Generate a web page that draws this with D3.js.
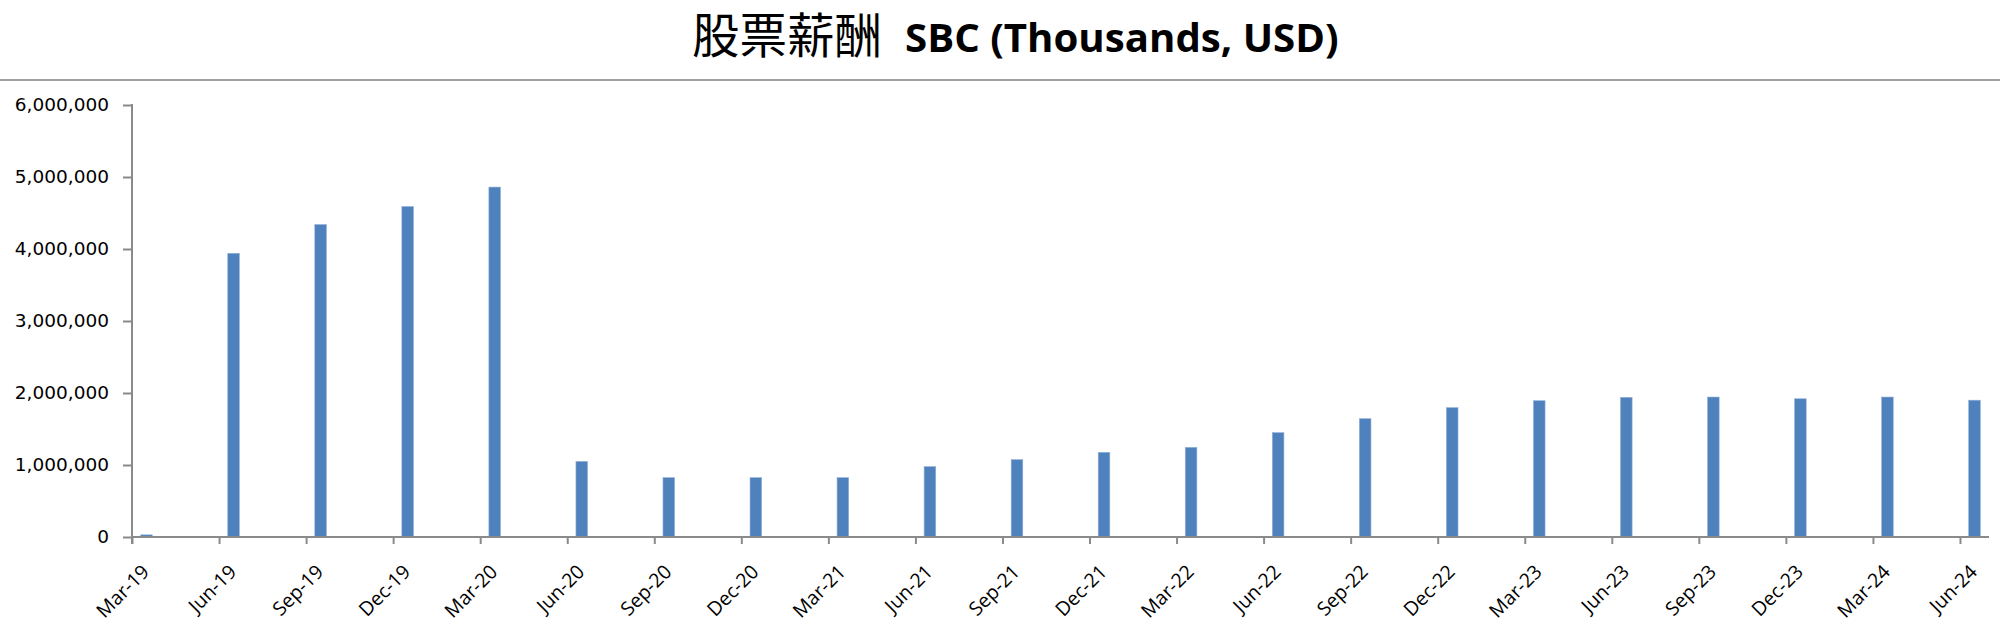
<!DOCTYPE html>
<html>
<head>
<meta charset="utf-8">
<script src="https://cdn.jsdelivr.net/npm/d3@7"></script>
<style>
  html, body { margin: 0; padding: 0; background: #fff; }
  svg { display: block; }
</style>
</head>
<body>
<svg id="chart" width="2000" height="626"></svg>
<script>
// ---- data ----
const titleZh = "股票薪酬";
const titleEn = "SBC (Thousands, USD)";
const categories = ["Mar-19","Jun-19","Sep-19","Dec-19","Mar-20","Jun-20","Sep-20","Dec-20",
  "Mar-21","Jun-21","Sep-21","Dec-21","Mar-22","Jun-22","Sep-22","Dec-22",
  "Mar-23","Jun-23","Sep-23","Dec-23","Mar-24","Jun-24"];
const sbcValues = [30000, 3940000, 4340000, 4590000, 4860000, 1050000, 824000, 824000,
  824000, 977000, 1074000, 1176000, 1245000, 1449000, 1643000, 1796000,
  1893000, 1940000, 1944000, 1920000, 1944000, 1900000];
const yTicks = [0, 1000000, 2000000, 3000000, 4000000, 5000000, 6000000];
const axisStart = "Mar-19";
const axisMonths = 64;

(function () {
// ---- layout ----
const svg = d3.select("#chart");
const mLeft = 132, mRight = 1989, mTop = 105, mBottom = 537;
const parse = d3.timeParse("%b-%y");
const start = parse(axisStart);
const monthIdx = c => d3.timeMonth.count(start, parse(c));

const x = d3.scaleLinear().domain([0, axisMonths]).range([mLeft, mRight]);
const y = d3.scaleLinear().domain([0, 6000000]).range([mBottom, mTop]);
const axisColor = "#8a8a8a";

// title (two parts)
svg.append("text")
  .attr("x", 692).attr("y", 53)
  .attr("fill", "#000")
  .attr("font-family", "'Noto Sans CJK TC', 'Noto Sans CJK SC', sans-serif")
  .attr("font-size", 47.5).attr("font-weight", 400)
  .text(titleZh);
svg.append("text")
  .attr("x", 905).attr("y", 52)
  .attr("fill", "#000")
  .attr("font-family", "'Open Sans', sans-serif")
  .attr("font-size", 40.2).attr("font-weight", 700)
  .text(titleEn);

// separator line
svg.append("line").attr("x1", 0).attr("x2", 2000).attr("y1", 80).attr("y2", 80)
  .attr("stroke", "#a0a0a0").attr("stroke-width", 2);

// bars
svg.append("g").selectAll("rect").data(categories).join("rect")
  .attr("x", c => x(monthIdx(c) + 0.3))
  .attr("width", x(0.4) - x(0))
  .attr("y", (c, i) => y(sbcValues[i]))
  .attr("height", (c, i) => y(0) - y(sbcValues[i]))
  .attr("fill", "#4F81BD")
  .attr("stroke", "#8fb0da").attr("stroke-width", 0.6);

// y axis
const yAxis = svg.append("g").attr("transform", `translate(${mLeft},0)`)
  .call(d3.axisLeft(y).tickValues(yTicks).tickFormat(d3.format(",")).tickSize(9).tickPadding(14).tickSizeOuter(0));
yAxis.select(".domain").remove();
yAxis.selectAll(".tick line").attr("stroke", axisColor).attr("stroke-width", 2);
yAxis.selectAll(".tick text")
  .attr("font-family", "'DejaVu Sans', sans-serif").attr("font-size", 18.5)
  .attr("fill", "#000");
svg.append("line").attr("x1", mLeft).attr("x2", mLeft).attr("y1", y(6000000) - 1).attr("y2", mBottom + 7)
  .attr("stroke", axisColor).attr("stroke-width", 2);

// x axis
const xAxis = svg.append("g").attr("transform", `translate(0,${mBottom})`)
  .call(d3.axisBottom(x).tickValues(categories.map(monthIdx))
    .tickFormat((d, i) => categories[i]).tickSize(7).tickSizeOuter(0));
xAxis.select(".domain").remove();
xAxis.selectAll(".tick line").attr("stroke", axisColor).attr("stroke-width", 2);
xAxis.selectAll(".tick text")
  .attr("font-family", "'Open Sans', sans-serif").attr("font-size", 19.5)
  .attr("fill", "#000")
  .attr("text-anchor", "end")
  .attr("y", 0).attr("dy", 0)
  .attr("transform", "translate(18,36) rotate(-45)");
svg.append("line").attr("x1", mLeft).attr("x2", mRight).attr("y1", mBottom).attr("y2", mBottom)
  .attr("stroke", axisColor).attr("stroke-width", 2);
})();
</script>
</body>
</html>
